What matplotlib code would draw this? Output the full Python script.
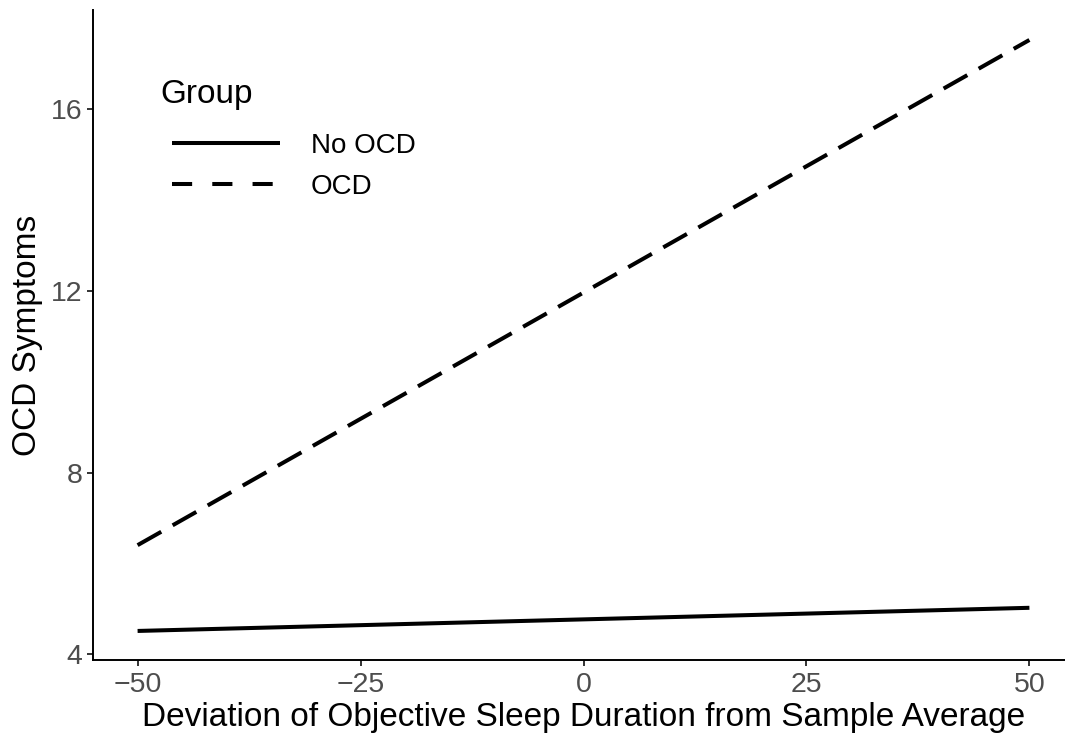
import matplotlib
matplotlib.use("Agg")
import matplotlib.pyplot as plt
from matplotlib.lines import Line2D

plt.rcParams['font.family'] = ['Liberation Sans', 'DejaVu Sans']

# Predicted OCD symptoms at the ends of the sleep-deviation range
sleep_dev = [-50, 50]
no_ocd = [4.51, 5.02]
ocd = [6.40, 17.53]
groups = ["No OCD", "OCD"]
x_ticks = [-50, -25, 0, 25, 50]
y_ticks = [4, 8, 12, 16]

W, H = 1065, 738
fig = plt.figure(figsize=(W / 100, H / 100), dpi=100)
# axes box in pixels: left 93, right 1074, bottom 660, top 10
ax = fig.add_axes([93 / W, (H - 660) / H, (1074 - 93) / W, (660 - 10) / H])

lw = 2.9
ax.plot(sleep_dev, no_ocd, color="black", lw=lw, solid_capstyle="butt")
ax.plot(sleep_dev, ocd, color="black", lw=lw, dashes=(6.75, 3.25),
        dash_capstyle="butt")

ax.set_xlim(-55, 55)
ax.set_ylim(3.87, 18.19)
ax.set_xticks(x_ticks)
ax.set_xticklabels(["\u221250", "\u221225", "0", "25", "50"])
ax.set_yticks(y_ticks)

for s in ["top", "right"]:
    ax.spines[s].set_visible(False)
for s in ["left", "bottom"]:
    ax.spines[s].set_linewidth(1.4)
    ax.spines[s].set_color("black")
ax.tick_params(axis="both", length=4.5, width=1.4, color="#333333",
               labelsize=20.5, labelcolor="#4D4D4D")
ax.tick_params(axis="x", pad=4)
ax.tick_params(axis="y", pad=3)

ax.set_xlabel("Deviation of Objective Sleep Duration from Sample Average",
              fontsize=24, labelpad=3)
ax.set_ylabel("OCD Symptoms", fontsize=24, labelpad=6)

# Legend: title drawn separately so it sits left of the keys
fig.text(160 / W, 1 - 103 / H, "Group", fontsize=24, ha="left",
         va="baseline")
handles = [
    Line2D([0], [0], color="black", lw=lw, solid_capstyle="butt"),
    Line2D([0], [0], color="black", lw=lw, dashes=(5, 5), dash_capstyle="butt"),
]
leg = ax.legend(handles, groups, loc="upper left",
                bbox_to_anchor=(158 / W, 1 - 119 / H),
                bbox_transform=fig.transFigure, frameon=False,
                fontsize=20, handlelength=3.9,
                handletextpad=1.1, labelspacing=0.55, borderpad=0)

fig.savefig("out.png", dpi=100)
